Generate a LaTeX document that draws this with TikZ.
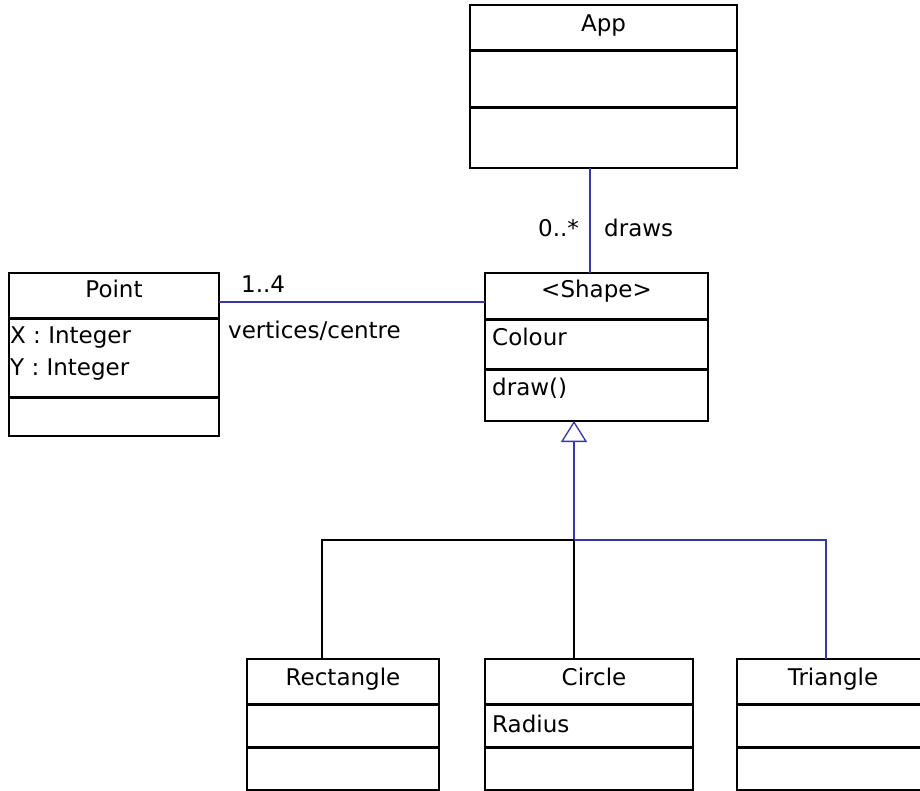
\documentclass[tikz,border=0pt]{standalone}
\usepackage{fontspec}
\setmainfont{DejaVu Sans}
\usetikzlibrary{arrows.meta}
\definecolor{umlblue}{RGB}{55,55,165}
\begin{document}
\begin{tikzpicture}[x=1pt,y=-1pt,
  every node/.style={font=\fontsize{23}{27}\selectfont},
  classbox/.style={draw, line width=1.3pt, anchor=north west, inner sep=0pt, outer sep=0pt},
  divider/.style={line width=3pt},
  title/.style={anchor=base, inner sep=0pt},
  member/.style={anchor=base west, inner sep=0pt},
  assoc/.style={draw=umlblue, line width=1.3pt},
  plain/.style={draw=black, line width=1.3pt},
  gentip/.style={-{Triangle[open,length=21pt,width=26pt,line width=1.3pt]}}]

\fill[white] (0,0) rectangle (920,791);
\useasboundingbox (0,0) rectangle (920,791);

% class boxes
\node[classbox, minimum width=267pt, minimum height=163pt] (app) at (470,5) {};
\node[classbox, minimum width=210pt, minimum height=163pt] (point) at (9,273) {};
\node[classbox, minimum width=223pt, minimum height=148pt] (shape) at (485,273) {};
\node[classbox, minimum width=192pt, minimum height=131pt] (rect) at (247,659) {};
\node[classbox, minimum width=208pt, minimum height=131pt] (circ) at (485,659) {};
\node[classbox, minimum width=192pt, minimum height=131pt] (tri) at (737,659) {};

% compartment dividers
\draw[divider] (470,51) -- (737,51);
\draw[divider] (470,108) -- (737,108);
\draw[divider] (9,318) -- (219,318);
\draw[divider] (9,397) -- (219,397);
\draw[divider] (485,319) -- (708,319);
\draw[divider] (485,369) -- (708,369);
\foreach \xa/\xb in {247/439, 485/693, 737/929} {
  \draw[divider] (\xa,704) -- (\xb,704);
  \draw[divider] (\xa,747) -- (\xb,747);
}

% class names and members
\node[title] (appname) at (603.5,32) {App};
\node[title] (pointname) at (114,298) {Point};
\node[member] (px) at (10,343) {X : Integer};
\node[member] (py) at (10,375) {Y : Integer};
\node[title] (shapename) at (596.5,298) {<Shape>};
\node[member] (colour) at (492,345) {Colour};
\node[member] (drawop) at (492,395) {draw()};
\node[title] (rectname) at (343,685) {Rectangle};
\node[title] (circname) at (594,685) {Circle};
\node[member] (radius) at (492,732) {Radius};
\node[title] (triname) at (833,685) {Triangle};

% associations
\draw[assoc] ([xshift=-13.5pt]app.south) -- ([xshift=-6.5pt]shape.north);
\draw[assoc] ([yshift=-29pt]point.north east) -- ([yshift=-29pt]shape.north west);
\node[member] (mult1) at (241,293) {1..4};
\node[member] (role1) at (228,338) {vertices/centre};
\node[member] (mult2) at (538,237) {0..*};
\node[member] (role2) at (604,237) {draws};

% generalisation tree
\coordinate (hub) at (574,540);
\draw[assoc, gentip] (hub) -- ([xshift=-22.5pt]shape.south);
\draw[plain] (hub) -| ([xshift=-21pt]rect.north);
\draw[plain] (hub) -- ([xshift=-15pt]circ.north);
\draw[assoc] (hub) -| ([xshift=-7pt]tri.north);
\end{tikzpicture}
\end{document}
